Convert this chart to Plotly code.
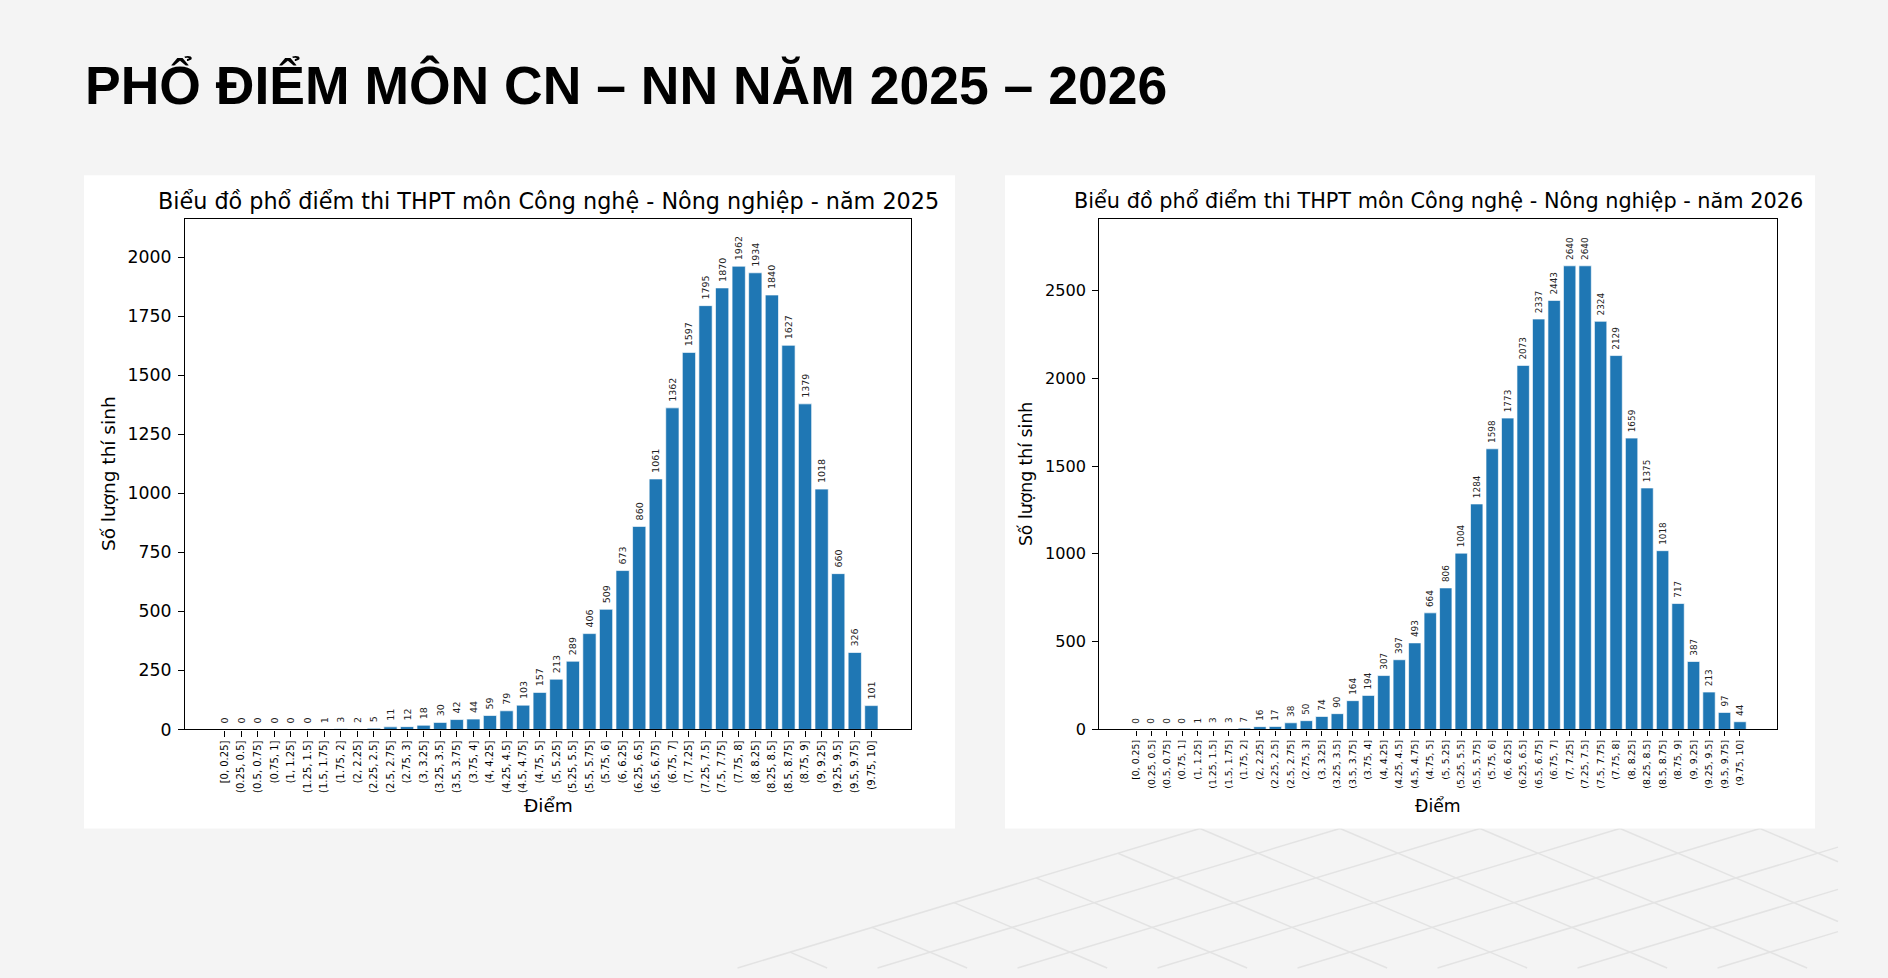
import plotly.graph_objects as go

# ---------------- data ----------------
bins = ["[0, 0.25]", "(0.25, 0.5]", "(0.5, 0.75]", "(0.75, 1]", "(1, 1.25]",
        "(1.25, 1.5]", "(1.5, 1.75]", "(1.75, 2]", "(2, 2.25]", "(2.25, 2.5]",
        "(2.5, 2.75]", "(2.75, 3]", "(3, 3.25]", "(3.25, 3.5]", "(3.5, 3.75]",
        "(3.75, 4]", "(4, 4.25]", "(4.25, 4.5]", "(4.5, 4.75]", "(4.75, 5]",
        "(5, 5.25]", "(5.25, 5.5]", "(5.5, 5.75]", "(5.75, 6]", "(6, 6.25]",
        "(6.25, 6.5]", "(6.5, 6.75]", "(6.75, 7]", "(7, 7.25]", "(7.25, 7.5]",
        "(7.5, 7.75]", "(7.75, 8]", "(8, 8.25]", "(8.25, 8.5]", "(8.5, 8.75]",
        "(8.75, 9]", "(9, 9.25]", "(9.25, 9.5]", "(9.5, 9.75]", "(9.75, 10]"]

counts_2025 = [0, 0, 0, 0, 0, 0, 1, 3, 2, 5, 11, 12, 18, 30, 42, 44, 59, 79, 103, 157,
               213, 289, 406, 509, 673, 860, 1061, 1362, 1597, 1795, 1870, 1962, 1934,
               1840, 1627, 1379, 1018, 660, 326, 101]
counts_2026 = [0, 0, 0, 0, 1, 3, 3, 7, 16, 17, 38, 50, 74, 90, 164, 194, 307, 397, 493,
               664, 806, 1004, 1284, 1598, 1773, 2073, 2337, 2443, 2640, 2640, 2324, 2129,
               1659, 1375, 1018, 717, 387, 213, 97, 44]

yticks_2025 = [0, 250, 500, 750, 1000, 1250, 1500, 1750, 2000]
yticks_2026 = [0, 500, 1000, 1500, 2000, 2500]

main_title = "PHỔ ĐIỂM MÔN CN – NN NĂM 2025 – 2026"
title_2025 = "Biểu đồ phổ điểm thi THPT môn Công nghệ - Nông nghiệp - năm 2025"
title_2026 = "Biểu đồ phổ điểm thi THPT môn Công nghệ - Nông nghiệp - năm 2026"
y_label = "Số lượng thí sinh"
x_label = "Điểm"

# ---------------- layout helpers ----------------
W, H = 1888, 978
FONT = "DejaVu Sans"
BAR = "#1f77b4"
BG = "#f4f4f4"


def px(x):
    return x / W


def py(y):
    return 1 - y / H


# per-panel font scale (right chart image is slightly smaller)
panels = [
    dict(counts=counts_2025, xa="x", ya="y", title=title_2025, s=1.0,
         xl=185, xr=911, ylx=108, ymax=2163, yticks=yticks_2025),
    dict(counts=counts_2026, xa="x2", ya="y2", title=title_2026, s=0.934,
         xl=1099, xr=1777, ylx=1026, ymax=2908, yticks=yticks_2026),
]

fig = go.Figure()
x_pos = list(range(len(bins)))

for p in panels:
    fig.add_trace(go.Bar(
        x=x_pos, y=p["counts"], xaxis=p["xa"], yaxis=p["ya"], width=0.8,
        marker=dict(color=BAR, line=dict(color="rgba(255,255,255,0.65)", width=1)),
        text=[" " + str(v) for v in p["counts"]], textposition="outside", textangle=-90,
        textfont=dict(family=FONT, size=9.5 * p["s"], color="#222"),
        cliponaxis=False, constraintext="none", hoverinfo="x+y",
    ))

axis_common = dict(showline=True, mirror=True, linecolor="black", linewidth=1.2,
                   ticks="outside", tickcolor="black", showgrid=False, zeroline=False)

# ---------------- decorative lattice ----------------
shapes = []
O = (1200.0, 837.0)
u = (-82.0, 25.0)
v = (58.0, 25.0)
XMAX, YMAX = 1838.0, float(H)


def seg(S, d):
    t0, t1 = 0.0, 1e9
    if d[1] > 0:
        t1 = min(t1, (YMAX - S[1]) / d[1])
    if d[0] > 0:
        t1 = min(t1, (XMAX - S[0]) / d[0])
    if d[0] < 0:
        t1 = min(t1, (0 - S[0]) / d[0])
        if S[0] > XMAX:
            t0 = (XMAX - S[0]) / d[0]
    if t1 <= t0:
        return None
    return ((S[0] + d[0] * t0, S[1] + d[1] * t0), (S[0] + d[0] * t1, S[1] + d[1] * t1))


lines = []
for k in range(0, 12):
    S = (O[0] + k * (v[0] - u[0]), O[1])
    lines.append(seg(S, u))
    lines.append(seg(S, v))
for a in range(1, 12):
    S = (O[0] + a * u[0], O[1] + a * u[1])
    if S[1] < YMAX:
        lines.append(seg(S, v))
for L in lines:
    if L is None:
        continue
    (x0, y0), (x1, y1) = L
    shapes.append(dict(type="line", xref="paper", yref="paper", layer="below",
                       x0=px(x0), y0=py(y0), x1=px(x1), y1=py(y1),
                       line=dict(color="#e3e3e3", width=1.5)))

# white panels
for (l, r) in [(84, 955), (1005, 1815)]:
    shapes.append(dict(type="rect", xref="paper", yref="paper", layer="below",
                       x0=px(l), x1=px(r), y0=py(837), y1=py(177),
                       fillcolor="white", line=dict(width=0)))

# ---------------- annotations ----------------
ann = [dict(text=main_title, xref="paper", yref="paper", x=px(83), y=py(86),
            xanchor="left", yanchor="middle", showarrow=False,
            font=dict(family="Liberation Sans", size=53.5, color="black", weight="bold"))]

for p in panels:
    cx = (p["xl"] + p["xr"]) / 2
    s = p["s"]
    ann.append(dict(text=p["title"], xref="paper", yref="paper", x=px(cx), y=py(203),
                    xanchor="center", yanchor="middle", showarrow=False,
                    font=dict(family=FONT, size=22.3 * s, color="black")))
    ann.append(dict(text=x_label, xref="paper", yref="paper", x=px(cx), y=py(814),
                    xanchor="center", yanchor="middle", showarrow=False,
                    font=dict(family=FONT, size=18.5 * s, color="black")))
    ann.append(dict(text=y_label, xref="paper", yref="paper", x=px(p["ylx"]), y=py(479),
                    xanchor="center", yanchor="middle", showarrow=False, textangle=-90,
                    font=dict(family=FONT, size=18.5 * s, color="black")))

ydom = [py(737), py(221)]
layout_axes = {}
for i, p in enumerate(panels):
    sfx = "" if i == 0 else str(i + 1)
    s = p["s"]
    layout_axes["xaxis" + sfx] = dict(
        domain=[px(p["xl"]), px(p["xr"])], range=[-2.39, 41.39], tickvals=x_pos,
        ticktext=bins, tickangle=-90, tickfont=dict(size=10 * s), anchor="y" + sfx,
        ticklen=6 * s, **axis_common)
    layout_axes["yaxis" + sfx] = dict(
        domain=ydom, range=[0, p["ymax"]], tickvals=p["yticks"], tickformat="d",
        tickfont=dict(size=17.3 * s), anchor="x" + sfx, ticklen=6 * s,
        ticklabelstandoff=3, **axis_common)

fig.update_layout(
    width=W, height=H, margin=dict(l=0, r=0, t=0, b=0),
    paper_bgcolor=BG, plot_bgcolor="white", showlegend=False,
    font=dict(family=FONT, color="black"),
    shapes=shapes, annotations=ann, **layout_axes,
)

fig.write_html("out.html")
